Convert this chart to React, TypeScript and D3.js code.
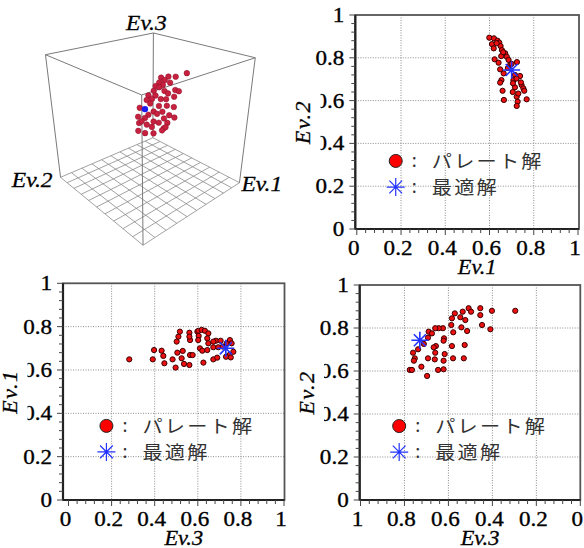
import React from "react";
import * as d3 from "d3";

// top right panel: Ev.1 (x) vs Ev.2 (y)
const ev1A = [0.599, 0.62, 0.636, 0.644, 0.611, 0.65, 0.619, 0.656, 0.671, 0.653, 0.678, 0.623, 0.686, 0.641, 0.724, 0.693, 0.648, 0.715, 0.738, 0.654, 0.648, 0.708, 0.745, 0.753, 0.715, 0.659, 0.757, 0.723, 0.665, 0.768, 0.727, 0.723, 0.706, 0.632, 0.662, 0.683, 0.722, 0.742, 0.705, 0.664, 0.7, 0.73];
const ev2A = [0.894, 0.891, 0.88, 0.871, 0.864, 0.855, 0.844, 0.836, 0.821, 0.808, 0.805, 0.793, 0.79, 0.777, 0.78, 0.766, 0.746, 0.72, 0.715, 0.696, 0.684, 0.696, 0.673, 0.657, 0.662, 0.646, 0.646, 0.618, 0.603, 0.606, 0.595, 0.575, 0.681, 0.868, 0.826, 0.752, 0.703, 0.685, 0.64, 0.727, 0.772, 0.633];

// bottom left panel: Ev.3 (x) vs Ev.1 (y)
const ev3B = [0.282, 0.391, 0.397, 0.432, 0.44, 0.445, 0.483, 0.497, 0.505, 0.502, 0.51, 0.517, 0.525, 0.53, 0.536, 0.561, 0.564, 0.561, 0.564, 0.576, 0.561, 0.598, 0.603, 0.618, 0.633, 0.604, 0.602, 0.649, 0.644, 0.61, 0.621, 0.644, 0.626, 0.649, 0.672, 0.684, 0.706, 0.695, 0.672, 0.69, 0.716, 0.734, 0.749, 0.757, 0.765, 0.746, 0.731, 0.753, 0.672];
const ev1B = [0.649, 0.649, 0.692, 0.689, 0.665, 0.631, 0.649, 0.611, 0.68, 0.731, 0.754, 0.777, 0.654, 0.688, 0.628, 0.772, 0.738, 0.754, 0.669, 0.669, 0.623, 0.777, 0.781, 0.785, 0.781, 0.757, 0.738, 0.769, 0.746, 0.7, 0.689, 0.692, 0.634, 0.723, 0.705, 0.735, 0.735, 0.705, 0.649, 0.657, 0.708, 0.723, 0.738, 0.723, 0.684, 0.669, 0.661, 0.658, 0.731];

// bottom right panel: Ev.3 (x, reversed) vs Ev.2 (y)
const ev3C = [0.296, 0.402, 0.455, 0.455, 0.508, 0.497, 0.535, 0.523, 0.546, 0.571, 0.584, 0.447, 0.409, 0.515, 0.541, 0.587, 0.578, 0.625, 0.644, 0.66, 0.62, 0.622, 0.69, 0.675, 0.693, 0.712, 0.738, 0.761, 0.753, 0.757, 0.723, 0.776, 0.766, 0.693, 0.662, 0.66, 0.657, 0.667, 0.697, 0.647, 0.622, 0.622, 0.617, 0.579, 0.584, 0.526, 0.53];
const ev2C = [0.88, 0.88, 0.892, 0.86, 0.892, 0.876, 0.876, 0.837, 0.85, 0.868, 0.845, 0.814, 0.794, 0.786, 0.803, 0.814, 0.78, 0.799, 0.799, 0.799, 0.752, 0.741, 0.783, 0.775, 0.755, 0.726, 0.701, 0.685, 0.659, 0.648, 0.62, 0.605, 0.605, 0.659, 0.654, 0.685, 0.716, 0.71, 0.577, 0.605, 0.608, 0.648, 0.679, 0.659, 0.716, 0.721, 0.659];

// best (optimal) solution
const bestEv1 = 0.7;
const bestEv2 = 0.743;
const bestEv3 = 0.73;

// 3D view cloud
const ev1D = [0.92, 0.78, 0.82, 0.86, 0.8, 0.77, 0.83, 0.75, 0.79, 0.77, 0.86, 0.88, 0.74, 0.8, 0.82, 0.71, 0.75, 0.73, 0.78, 0.81, 0.86, 0.7, 0.72, 0.77, 0.82, 0.86, 0.66, 0.74, 0.79, 0.71, 0.76, 0.83, 0.86, 0.65, 0.69, 0.74, 0.8, 0.77, 0.82, 0.66, 0.7, 0.73, 0.8, 0.81, 0.65, 0.69, 0.74, 0.79, 0.67];
const ev2D = [0.53, 0.67, 0.63, 0.59, 0.65, 0.68, 0.62, 0.7, 0.66, 0.68, 0.59, 0.57, 0.71, 0.65, 0.63, 0.74, 0.7, 0.72, 0.67, 0.64, 0.6, 0.75, 0.73, 0.68, 0.64, 0.6, 0.79, 0.71, 0.66, 0.74, 0.69, 0.62, 0.59, 0.8, 0.76, 0.71, 0.65, 0.68, 0.63, 0.8, 0.75, 0.72, 0.65, 0.64, 0.8, 0.76, 0.71, 0.66, 0.78];
const ev3D = [0.78, 0.74, 0.75, 0.75, 0.72, 0.7, 0.7, 0.67, 0.68, 0.66, 0.64, 0.63, 0.63, 0.63, 0.61, 0.59, 0.59, 0.56, 0.56, 0.56, 0.58, 0.55, 0.52, 0.5, 0.5, 0.49, 0.48, 0.45, 0.45, 0.42, 0.43, 0.42, 0.4, 0.4, 0.39, 0.36, 0.39, 0.35, 0.35, 0.34, 0.33, 0.31, 0.3, 0.31, 0.27, 0.25, 0.25, 0.28, 0.36];
const best3D = [0.69, 0.76, 0.47];

const tickVals = [0, 0.2, 0.4, 0.6, 0.8, 1];
const tickText = ["0", "0.2", "0.4", "0.6", "0.8", "1"];
const legendText = ["パレート解", "最適解"];

// slightly stroked text to match the heavier look of the original
const serifStyle = { fontFamily: "Liberation Serif", fontSize: 21, stroke: "#000", strokeWidth: 0.35 };
const italicStyle = { fontFamily: "Liberation Serif", fontStyle: "italic", fontSize: 21, stroke: "#000", strokeWidth: 0.3 };
const cjkStyle = { fontFamily: "Noto Sans CJK JP", fontSize: 18, letterSpacing: 2 };

const panels = [
  { xs: ev1A, ys: ev2A, best: [bestEv1, bestEv2], xDomain: [0, 1], xRange: [356.8, 578], yRange: [229, 15], frameLeft: 355.3, frameRight: 579, xTitle: "Ev.1", yTitle: "Ev.2", titleX: 303, legendY: [0.318, 0.196] },
  { xs: ev3B, ys: ev1B, best: [bestEv3, bestEv1], xDomain: [0, 1], xRange: [68.5, 284], yRange: [500, 283.3], frameLeft: 63, frameRight: 284.5, xTitle: "Ev.3", yTitle: "Ev.1", titleX: 10, legendY: [0.342, 0.222] },
  { xs: ev3C, ys: ev2C, best: [bestEv3, bestEv2], xDomain: [1, 0], xRange: [360.5, 580.3], yRange: [500, 285], frameLeft: 359.7, frameRight: 580.3, xTitle: "Ev.3", yTitle: "Ev.2", titleX: 306.5, legendY: [0.344, 0.223] },
];

// simple perspective camera for the 3D box
const cam = { D: 2.75, elev: (25.9 * Math.PI) / 180, azim: (228 * Math.PI) / 180, s: 376, cx: 149, cy: 123 };

const project = (e1, e2, e3) => {
  const a = e1 - 0.5, b = e2 - 0.5, w = e3 - 0.5;
  const S = Math.sin(cam.elev), C = Math.cos(cam.elev);
  const qh = a * Math.cos(cam.azim) + b * Math.sin(cam.azim);
  const xc = -a * Math.sin(cam.azim) + b * Math.cos(cam.azim);
  const depth = cam.D - C * qh - S * w;
  const yc = -S * qh + C * w;
  return [cam.cx + (cam.s * xc) / depth, cam.cy - (cam.s * yc) / depth];
};

const asterisk = (r) => {
  const p = d3.path();
  for (let k = 0; k < 4; k++) {
    const a = (k * Math.PI) / 4;
    p.moveTo(-r * Math.cos(a), -r * Math.sin(a));
    p.lineTo(r * Math.cos(a), r * Math.sin(a));
  }
  return p.toString();
};

const seg = (p1, p2) => `M${project(...p1)}L${project(...p2)}`;

const Box3D = () => {
  const steps = d3.range(0, 11).map((i) => i / 10);
  const edges = [
    [[0, 0, 1], [1, 0, 1]],
    [[1, 0, 1], [1, 1, 1]],
    [[1, 1, 1], [0, 1, 1]],
    [[0, 1, 1], [0, 0, 1]],
    [[0, 0, 0], [0, 0, 1]],
    [[1, 0, 0], [1, 0, 1]],
    [[0, 1, 0], [0, 1, 1]],
    [[1, 1, 0], [1, 1, 1]],
  ];
  const pts = ev1D.map((v, i) => project(v, ev2D[i], ev3D[i]));
  const b = project(...best3D);
  const l3 = project(1, 1, 1), l1 = project(1, 0, 0), l2 = project(0, 1, 0);
  return (
    <g>
      <g stroke="#8a8a8a" strokeWidth={0.8} fill="none">
        {steps.map((v) => (
          <path key={"u" + v} d={seg([v, 0, 0], [v, 1, 0])} />
        ))}
        {steps.map((v) => (
          <path key={"v" + v} d={seg([0, v, 0], [1, v, 0])} />
        ))}
      </g>
      <g stroke="#7a7a7a" strokeWidth={1} fill="none">
        {edges.map((e, i) => (
          <path key={i} d={seg(e[0], e[1])} />
        ))}
      </g>
      {pts.map((d, i) => (
        <circle key={i} cx={d[0]} cy={d[1]} r={2.8} fill="#c8203f" stroke="#8a1028" strokeWidth={0.5} />
      ))}
      <circle cx={b[0]} cy={b[1]} r={3.2} fill="#1c1cf0" />
      <text transform={`translate(${l3[0] - 7},${l3[1] - 3}) scale(1.12,1)`} textAnchor="middle" style={italicStyle} fill="#000">Ev.3</text>
      <text transform={`translate(${l1[0] + 2},${l1[1] + 8}) scale(1.12,1)`} textAnchor="start" style={italicStyle} fill="#000">Ev.1</text>
      <text transform={`translate(${l2[0] - 8},${l2[1] + 10}) scale(1.12,1)`} textAnchor="end" style={italicStyle} fill="#000">Ev.2</text>
    </g>
  );
};

const Panel = ({ p }) => {
  const x = d3.scaleLinear().domain(p.xDomain).range(p.xRange);
  const y = d3.scaleLinear().domain([0, 1]).range(p.yRange);
  const top = p.yRange[1], bottom = p.yRange[0];
  const left = p.frameLeft, right = p.frameRight;
  const inner = [0.2, 0.4, 0.6, 0.8];
  const minor = d3.range(0, 26).map((i) => i * 0.04);
  const isMajor = (v) => Math.abs(v * 5 - Math.round(v * 5)) < 1e-6;
  const lx = p.xRange[0] + 0.176 * (p.xRange[1] - p.xRange[0]);
  const ly = p.legendY.map((v) => y(v));
  const cy = (top + bottom) / 2;

  return (
    <g>
      {/* dotted grid */}
      <g stroke="#8c8c8c" strokeWidth={1} strokeDasharray="1,1.5">
        {inner.map((v) => (
          <line key={"gx" + v} x1={x(v)} x2={x(v)} y1={top} y2={bottom} />
        ))}
        {inner.map((v) => (
          <line key={"gy" + v} x1={left} x2={right} y1={y(v)} y2={y(v)} />
        ))}
      </g>
      <rect x={left} y={top} width={right - left} height={bottom - top} fill="none" stroke="#555" strokeWidth={1.8} />
      <line x1={left} x2={left} y1={top} y2={bottom} stroke="#222" strokeWidth={2.2} />
      <line x1={left} x2={right} y1={bottom} y2={bottom} stroke="#222" strokeWidth={2.2} />
      <g stroke="#444" strokeWidth={1}>
        {minor.map((v) => (
          <line key={"ty" + v} x1={left - (isMajor(v) ? 6 : 4)} x2={left} y1={y(v)} y2={y(v)} />
        ))}
        {minor.map((v) => (
          <line key={"tx" + v} x1={x(v)} x2={x(v)} y1={bottom} y2={bottom + (isMajor(v) ? 6 : 4)} />
        ))}
      </g>
      {tickVals.map((v, i) => (
        <text key={"ly" + v} transform={`translate(${left - 11},${y(v) + 7}) scale(1.1,1)`} textAnchor="end" style={serifStyle} fill="#000">
          {tickText[i]}
        </text>
      ))}
      {tickVals.map((v, i) => (
        <text key={"lx" + v} transform={`translate(${x(v) - 3},${bottom + 26}) scale(1.1,1)`} textAnchor="middle" style={serifStyle} fill="#000">
          {tickText[i]}
        </text>
      ))}
      {p.xs.map((v, i) => (
        <circle key={i} cx={x(v)} cy={y(p.ys[i])} r={2.6} fill="#ee1010" stroke="#3a0000" strokeWidth={1} />
      ))}
      <path d={asterisk(8.5)} transform={`translate(${x(p.best[0])},${y(p.best[1])})`} stroke="#2233ff" strokeWidth={1.6} />

      {/* legend */}
      <circle cx={lx} cy={ly[0]} r={6.5} fill="#ff0000" stroke="#222" strokeWidth={1} />
      <path d={asterisk(9)} transform={`translate(${lx},${ly[1]})`} stroke="#2233ff" strokeWidth={1.2} />
      {ly.map((yy, i) => (
        <g key={"lg" + i}>
          <text x={lx + 16} y={yy + 6} style={cjkStyle} fill="#333">:</text>
          <text transform={`translate(${lx + 36},${yy + 7}) scale(1.12,1)`} style={cjkStyle} fill="#333">
            {legendText[i]}
          </text>
        </g>
      ))}

      {/* axis titles */}
      <rect x={p.titleX - 14} y={cy - 37} width={31.5} height={74} fill="#fff" />
      <text transform={`translate(${p.titleX + 7},${cy}) rotate(-90)`} textAnchor="middle" style={{ ...italicStyle, fontSize: 22, letterSpacing: 1.5 }} fill="#000">
        {p.yTitle}
      </text>
      <text transform={`translate(${(left + right) / 2 + 10},${bottom + 45}) scale(1.12,1)`} textAnchor="middle" style={{ ...italicStyle, fontSize: 20 }} fill="#000">
        {p.xTitle}
      </text>
    </g>
  );
};

const App = () => (
  <svg width={584} height={548} style={{ position: "absolute", left: 0, top: 0, background: "#fff" }}>
    <Box3D />
    {panels.map((p, i) => (
      <Panel key={i} p={p} />
    ))}
  </svg>
);

export default App;
